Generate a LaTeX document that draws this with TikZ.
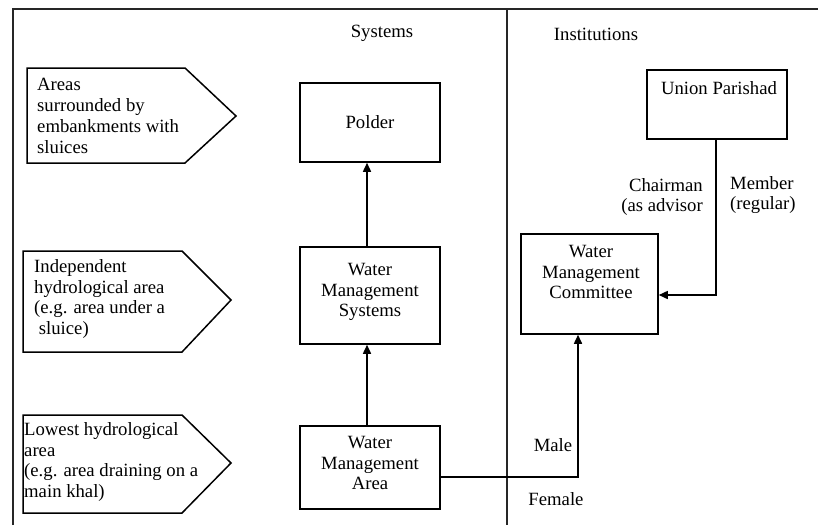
\documentclass[tikz,border=0pt]{standalone}
\usepackage{fontspec}
\setmainfont{Liberation Serif}
\usetikzlibrary{arrows.meta}
\begin{document}
\begin{tikzpicture}[x=1pt,y=-1pt,
  every node/.style={font=\fontsize{18.7}{20.8}\selectfont, inner sep=0pt},
  frameline/.style={line width=1.4pt, draw=black!85},
  box/.style={draw, line width=1.5pt, rectangle, inner sep=0pt},
  pent/.style={draw, line width=1.5pt},
  conn/.style={line width=1.5pt, -{Triangle[length=9pt,width=8pt]}},
  lbl/.style={align=left, anchor=west},
  ctext/.style={align=center}]
\useasboundingbox (0,0) rectangle (818,525);
% frame
\draw[frameline] (13,525) -- (13,9) -- (818,9);
\draw[frameline] (507,9) -- (507,525);
% headings
\node (hsys) at (382,33) {Systems};
\node (hinst) at (596,34) {Institutions};
% pentagons
\draw[pent] (27,68) -- (185,68) -- (236,116) -- (185,163) -- (27,163) -- cycle;
\node[lbl] (p1) at (37,116) {Areas\\surrounded by\\embankments with\\sluices};
\draw[pent] (23,251) -- (182,251) -- (231,300) -- (182,352) -- (23,352) -- cycle;
\node[lbl] (p2) at (34,299) {Independent\\hydrological area\\(e.g. area under a\\\ sluice)};
\draw[pent] (23,415) -- (182,415) -- (231,463) -- (182,513) -- (23,513) -- cycle;
\node[lbl] (p3) at (24,462) {Lowest hydrological\\area\\(e.g. area draining on a\\main khal)};
% system boxes
\node[box, minimum width=140pt, minimum height=79pt] (polder) at (370,122.5) {};
\node (poldert) at (370,122) {Polder};
\node[box, minimum width=140pt, minimum height=97pt] (wms) at (370,295.5) {};
\node[ctext] (wmst) at (370,292) {Water\\Management\\Systems};
\node[box, minimum width=140pt, minimum height=83pt] (wma) at (370,467.5) {};
\node[ctext] (wmat) at (370,463) {Water\\Management\\Area};
% institution boxes
\node[box, minimum width=140pt, minimum height=69pt] (up) at (717,104.5) {};
\node (upt) at (719,88) {Union Parishad};
\node[box, minimum width=137pt, minimum height=100pt] (wmc) at (589.5,284) {};
\node[ctext] (wmct) at (591,272) {Water\\Management\\Committee};
% connectors
\draw[conn] ([xshift=-3pt]wma.north) -- ([xshift=-3pt]wms.south);
\draw[conn] ([xshift=-3pt]wms.north) -- ([xshift=-3pt]polder.south);
\coordinate (c1) at (716,295);
\draw[conn] (up.south -| c1) -- (c1) -- (wmc.east |- c1);
\coordinate (c2) at (578,477);
\draw[conn] (wma.east |- c2) -- (c2) -- (wmc.south -| c2);
% labels
\node[align=right, anchor=east] (chair) at (703,197) {Chairman\\(as advisor};
\node[align=left, anchor=west] (member) at (730,195) {Member\\(regular)};
\node (male) at (553,445) {Male};
\node (female) at (556,499) {Female};
\end{tikzpicture}
\end{document}
